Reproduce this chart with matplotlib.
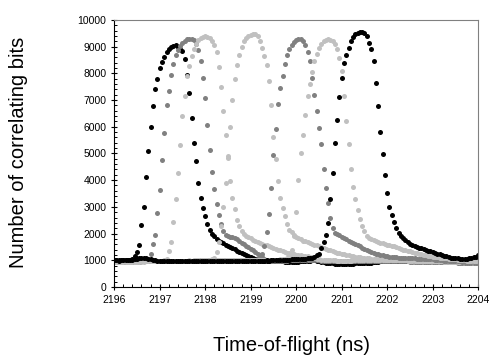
"""Time-of-flight scans: number of correlating bits for seven delay settings."""

import numpy as np
import matplotlib
matplotlib.use("Agg")
import matplotlib.pyplot as plt
from matplotlib.ticker import MultipleLocator

plt.rcParams['font.family'] = ['Liberation Sans', 'DejaVu Sans']

# sampling times (ns), one point every 0.05 ns from 2196 to 2204
time_ns = np.round(2196 + 0.05 * np.arange(161), 2)

# number of correlating bits, one list per scan
scan_1 = [990, 1000, 1000, 990, 1000, 1010, 1000, 1010, 1040, 1150,
          1310, 1560, 2330, 2980, 4100, 5100, 5980, 6760, 7420, 7800,
          8200, 8410, 8600, 8780, 8900, 8980, 9040, 9060, 9000, 8900,
          8830, 8550, 7950, 7270, 6330, 5390, 4700, 3900, 3330, 2960,
          2650, 2360, 2150, 2000, 1900, 1800, 1720, 1680, 1630, 1590,
          1550, 1500, 1460, 1410, 1360, 1320, 1280, 1240, 1200, 1160,
          1120, 1090, 1060, 1040, 1020, 1000, 990, 980, 980, 970,
          970, 970, 960, 960, 960, 950, 950, 950, 950, 950,
          950, 950, 960, 960, 970, 980, 990, 1000, 1000, 990,
          980, 950, 920, 900, 890, 880, 880, 875, 875, 870,
          870, 870, 870, 875, 875, 875, 880, 880, 880, 880,
          880, 885, 890, 900, 920, 940, 950, 960, 970, 980,
          980, 985, 990, 990, 990, 990, 990, 990, 990, 990,
          990, 990, 985, 985, 985, 980, 980, 980, 980, 975,
          975, 975, 970, 970, 970, 965, 965, 965, 960, 960,
          960, 955, 955, 950, 950, 945, 945, 940, 940, 940,
          935]
scan_2 = [960, 950, 960, 950, 950, 960, 950, 960, 960, 960,
          960, 970, 970, 980, 990, 1050, 1230, 1600, 1960, 2770,
          3640, 4740, 5770, 6830, 7330, 7950, 8330, 8700, 8880, 9020,
          9130, 9220, 9280, 9300, 9290, 9230, 9100, 8890, 8450, 7830,
          7080, 6080, 5140, 4300, 3650, 3100, 2710, 2360, 2100, 1960,
          1920, 1890, 1870, 1850, 1800, 1730, 1660, 1600, 1540, 1480,
          1420, 1370, 1320, 1250, 1180, 1110, 1060, 1020, 1000, 990,
          990, 990, 980, 980, 980, 990, 990, 1000, 1000, 1000,
          1000, 1000, 1010, 1010, 1010, 1010, 1000, 1000, 1000, 1000,
          1000, 990, 990, 990, 990, 990, 980, 980, 980, 980,
          980, 980, 980, 980, 980, 980, 980, 980, 980, 980,
          980, 980, 980, 975, 975, 975, 970, 970, 970, 970,
          970, 965, 965, 965, 960, 960, 960, 955, 955, 955,
          950, 950, 950, 945, 945, 945, 940, 940, 940, 935,
          935, 935, 930, 930, 930, 925, 925, 925, 920, 920,
          920, 915, 915, 915, 910, 910, 910, 905, 905, 905,
          900]
scan_3 = [940, 940, 950, 940, 940, 950, 950, 940, 950, 950,
          950, 960, 960, 960, 960, 970, 970, 970, 970, 980,
          980, 990, 1000, 1050, 1340, 1690, 2430, 3280, 4250, 5310,
          6410, 7150, 7900, 8280, 8650, 8900, 9100, 9250, 9320, 9370,
          9380, 9370, 9330, 9200, 9050, 8800, 8240, 7480, 6580, 5700,
          4830, 3980, 3330, 2920, 2520, 2270, 2080, 1980, 1920, 1860,
          1820, 1760, 1710, 1680, 1650, 1620, 1590, 1560, 1530, 1500,
          1460, 1430, 1400, 1370, 1340, 1320, 1290, 1270, 1250, 1230,
          1210, 1200, 1180, 1170, 1160, 1150, 1130, 1110, 1090, 1060,
          1040, 1020, 1010, 1000, 1000, 1000, 1000, 1000, 990, 990,
          990, 990, 990, 990, 990, 1000, 1000, 1000, 1000, 1000,
          1000, 1000, 1000, 1000, 1000, 1010, 1010, 1010, 1010, 1010,
          1010, 1010, 1010, 1010, 1010, 1010, 1000, 1000, 1000, 1000,
          1000, 1000, 1000, 990, 990, 990, 990, 990, 980, 980,
          980, 980, 980, 970, 970, 970, 970, 960, 960, 960,
          960, 960, 950, 950, 950, 950, 940, 940, 940, 940,
          930]
scan_4 = [950, 960, 950, 950, 960, 950, 950, 960, 950, 960,
          960, 960, 950, 960, 960, 960, 960, 970, 960, 970,
          970, 970, 970, 980, 970, 980, 980, 980, 980, 990,
          990, 990, 990, 1000, 990, 1000, 1000, 1000, 1000, 1000,
          1000, 1010, 1020, 1050, 1100, 1300, 1700, 2300, 3000, 3900,
          4900, 6000, 7000, 7800, 8300, 8700, 9000, 9200, 9330, 9400,
          9440, 9470, 9470, 9400, 9200, 8950, 8650, 8300, 7700, 6800,
          5600, 4800, 3950, 3350, 2950, 2650, 2350, 2150, 2050, 1950,
          1870, 1820, 1780, 1740, 1710, 1680, 1650, 1620, 1590, 1560,
          1530, 1500, 1460, 1430, 1400, 1370, 1340, 1310, 1290, 1270,
          1250, 1230, 1210, 1190, 1170, 1150, 1140, 1120, 1110, 1100,
          1090, 1080, 1070, 1060, 1050, 1050, 1040, 1040, 1030, 1030,
          1020, 1020, 1010, 1010, 1010, 1000, 1000, 1000, 1000, 990,
          990, 990, 990, 980, 980, 980, 980, 970, 970, 970,
          970, 960, 960, 960, 960, 950, 950, 950, 950, 940,
          940, 940, 940, 930, 930, 930, 930, 920, 920, 920,
          920]
scan_5 = [960, 950, 950, 960, 950, 950, 960, 950, 950, 960,
          960, 950, 960, 960, 960, 960, 970, 960, 970, 970,
          970, 970, 970, 970, 980, 970, 980, 980, 980, 980,
          980, 990, 980, 990, 990, 990, 990, 990, 1000, 990,
          1000, 1000, 1000, 1000, 1000, 1000, 1000, 1000, 1010, 1000,
          1000, 1000, 1010, 1000, 1010, 1010, 1010, 1000, 1010, 1010,
          1010, 1020, 1020, 1030, 1080, 1250, 1550, 2050, 2740, 3700,
          4950, 5900, 6850, 7450, 7890, 8350, 8680, 8900, 9050, 9180,
          9260, 9300, 9280, 9200, 9050, 8800, 8450, 7830, 7200, 6600,
          5950, 5350, 4400, 3700, 3140, 2600, 2200, 2020, 1980, 1930,
          1880, 1830, 1780, 1740, 1700, 1660, 1620, 1570, 1520, 1470,
          1420, 1380, 1340, 1310, 1280, 1250, 1230, 1210, 1190, 1170,
          1150, 1140, 1130, 1120, 1110, 1100, 1100, 1090, 1090, 1080,
          1080, 1070, 1070, 1060, 1060, 1050, 1050, 1040, 1040, 1030,
          1030, 1020, 1010, 1010, 1000, 990, 990, 980, 980, 970,
          970, 960, 960, 950, 950, 940, 940, 930, 930, 920,
          920]
scan_6 = [950, 940, 950, 950, 940, 950, 950, 940, 950, 950,
          950, 950, 960, 950, 960, 960, 960, 960, 960, 970,
          970, 970, 970, 970, 980, 980, 980, 980, 980, 980,
          990, 990, 990, 990, 990, 990, 1000, 990, 1000, 1000,
          1000, 1000, 1000, 1000, 1000, 1000, 1000, 1000, 1000, 1000,
          1000, 1000, 1000, 1000, 1010, 1000, 1010, 1010, 1010, 1010,
          1010, 1010, 1010, 1010, 1010, 1010, 1020, 1010, 1020, 1020,
          1020, 1020, 1020, 1030, 1040, 1060, 1100, 1150, 1400, 1900,
          2800, 4000, 5000, 5700, 6450, 7150, 7600, 8050, 8450, 8720,
          8950, 9100, 9200, 9250, 9270, 9250, 9200, 9100, 8900, 8590,
          8090, 7150, 6210, 5340, 4400, 3750, 3300, 2880, 2530, 2280,
          2090, 1900, 1850, 1810, 1760, 1720, 1690, 1660, 1630, 1600,
          1580, 1560, 1540, 1520, 1490, 1460, 1430, 1400, 1380, 1360,
          1340, 1310, 1290, 1270, 1250, 1220, 1200, 1180, 1160, 1150,
          1140, 1130, 1110, 1100, 1090, 1080, 1070, 1060, 1050, 1040,
          1030, 1025, 1020, 1010, 1000, 990, 985, 980, 975, 965,
          960]
scan_7 = [1000, 1000, 990, 1000, 1000, 1000, 1010, 1000, 1010, 1030,
          1060, 1080, 1090, 1080, 1080, 1060, 1040, 1020, 1000, 990,
          980, 980, 970, 980, 980, 970, 980, 980, 990, 980,
          980, 980, 970, 980, 980, 980, 970, 970, 980, 970,
          970, 970, 960, 970, 960, 960, 970, 960, 960, 970,
          960, 970, 960, 970, 970, 960, 970, 970, 970, 980,
          970, 980, 980, 980, 990, 990, 990, 1000, 990, 1000,
          1000, 1000, 1010, 1010, 1010, 1020, 1020, 1020, 1030, 1030,
          1040, 1040, 1050, 1060, 1060, 1070, 1080, 1100, 1130, 1180,
          1250, 1460, 1700, 1950, 2380, 3300, 4250, 5380, 6250, 7130,
          7840, 8400, 8680, 8930, 9200, 9340, 9460, 9520, 9560, 9560,
          9520, 9400, 9150, 8900, 8460, 7630, 6780, 5800, 4960, 4180,
          3500, 3000, 2710, 2430, 2210, 2030, 1900, 1840, 1760, 1700,
          1600, 1570, 1530, 1500, 1470, 1450, 1420, 1390, 1360, 1340,
          1310, 1280, 1250, 1220, 1200, 1170, 1150, 1120, 1100, 1090,
          1080, 1070, 1060, 1050, 1050, 1060, 1070, 1090, 1110, 1140,
          1180]

scans = [scan_1, scan_2, scan_3, scan_4, scan_5, scan_6, scan_7]
scan_colors = ["#000000", "#808080", "#c0c0c0", "#c0c0c0",
               "#808080", "#c0c0c0", "#000000"]


def main() -> None:
    fig = plt.figure(figsize=(4.9, 3.61), dpi=100)
    ax = fig.add_axes([0.233, 0.205, 0.743, 0.74])

    for counts, color in zip(scans, scan_colors):
        ax.plot(time_ns, counts, linestyle="none", marker="o",
                markersize=3.6, markerfacecolor=color, markeredgecolor="none")

    ax.set_xlim(2196, 2204)
    ax.set_ylim(0, 10000)
    ax.xaxis.set_major_locator(MultipleLocator(1))
    ax.xaxis.set_minor_locator(MultipleLocator(0.2))
    ax.yaxis.set_major_locator(MultipleLocator(1000))
    ax.yaxis.set_minor_locator(MultipleLocator(200))
    ax.tick_params(which="major", direction="inout", length=5, width=0.8,
                   labelsize=7.5, pad=3)
    ax.tick_params(which="minor", direction="in", length=2.5, width=0.7)

    for side in ("top", "right"):
        ax.spines[side].set_color("#808080")
        ax.spines[side].set_linewidth(0.8)
    for side in ("left", "bottom"):
        ax.spines[side].set_linewidth(0.8)

    fig.text(0.594, 0.043, "Time-of-flight (ns)", fontsize=14.5,
             ha="center", va="center")
    fig.text(0.037, 0.578, "Number of correlating bits", fontsize=14.5,
             rotation=90, ha="center", va="center")

    fig.savefig("out.png", dpi=100)
    plt.close(fig)


if __name__ == "__main__":
    main()
